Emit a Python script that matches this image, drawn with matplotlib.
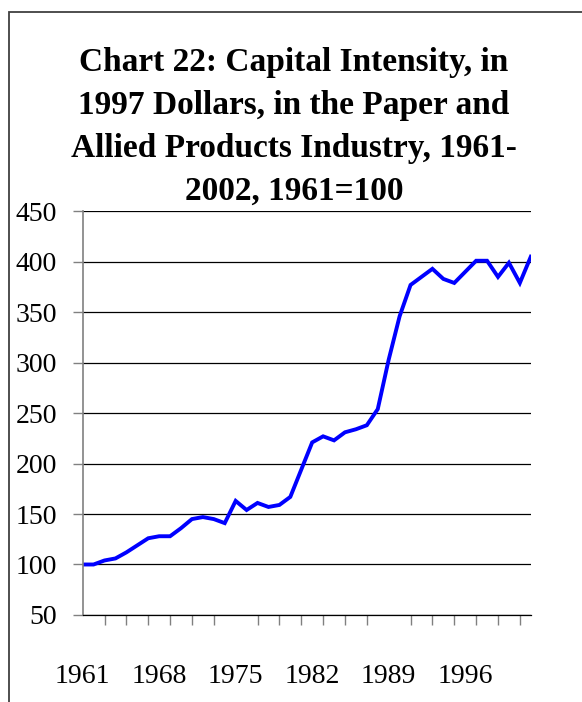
import matplotlib.pyplot as plt
from matplotlib.patches import Rectangle

# Capital intensity index, paper and allied products, 1961=100
years = list(range(1961, 2003))
intensity = [100, 100, 104, 106, 112, 119, 126, 128, 128, 136,
             145, 147, 145, 141, 163, 154, 161, 157, 159, 167,
             194, 221, 227, 223, 231, 234, 238, 254, 303, 346,
             377, 385, 393, 383, 379, 390, 401, 401, 385, 399,
             379, 405]

label_years = [1961, 1968, 1975, 1982, 1989, 1996]
tick_years = list(range(1961, 2002, 2))
y_ticks = list(range(50, 451, 50))

plt.rcParams['font.family'] = ['Liberation Serif', 'DejaVu Serif']

fig = plt.figure(figsize=(5.82, 7.02), dpi=100)
ax = fig.add_axes([0.142, 0.124, 0.770, 0.575])

ax.plot(years, intensity, color='#0000FF', linewidth=2.8, solid_joinstyle='miter')

ax.set_xlim(1961, 2002)
ax.set_ylim(50, 450)
ax.set_yticks(y_ticks)
ax.tick_params(axis='y', length=7.5, width=1, color='#808080', pad=11, labelsize=20)

# labels every 7 years, tick marks every 2 years
ax.set_xticks(label_years)
ax.set_xticks(tick_years, minor=True)
ax.tick_params(axis='x', which='major', length=0, pad=35, labelsize=20)
ax.tick_params(axis='x', which='minor', length=7.5, width=1, color='#808080')

ax.grid(True, axis='y', color='black', linewidth=0.9)
for s in ['top', 'right']:
    ax.spines[s].set_visible(False)
ax.spines['left'].set_color('#808080')
ax.spines['left'].set_linewidth(1.2)
ax.spines['bottom'].set_color('black')
ax.spines['bottom'].set_linewidth(0.9)

fig.text(0.505, 0.933,
         "Chart 22: Capital Intensity, in\n1997 Dollars, in the Paper and\n"
         "Allied Products Industry, 1961-\n2002, 1961=100",
         ha='center', va='top', fontsize=24, fontweight='bold', linespacing=1.5)

# chart frame (left and top edges visible)
fig.add_artist(Rectangle((9 / 582, -0.1), 1.2, 1.1 - 12 / 702, transform=fig.transFigure,
                         fill=False, edgecolor='#404040', linewidth=1.3))

fig.savefig('out.png', dpi=100)
